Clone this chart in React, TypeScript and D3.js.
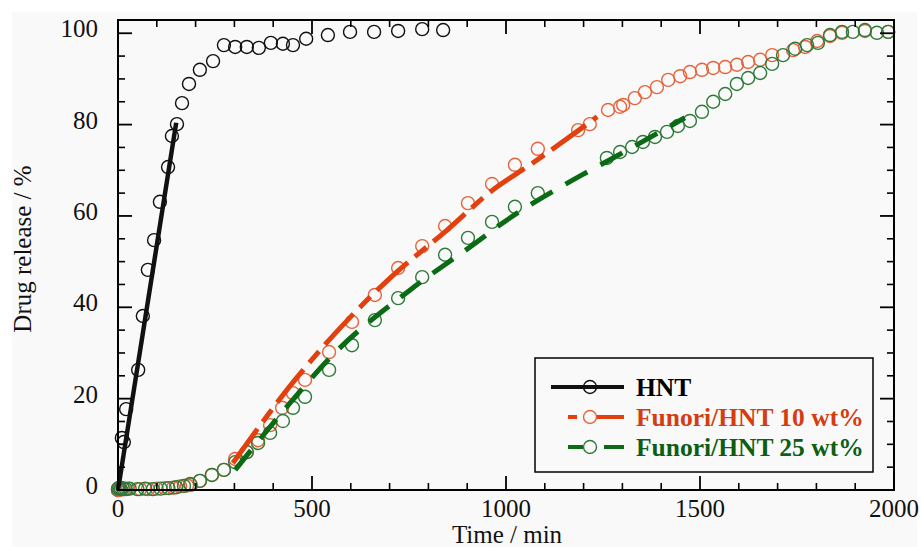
import React from "react";
import * as d3 from "d3";

// ---------- data ----------
const hntTime = [0, 5, 10, 15, 21, 52, 64, 77, 93, 108, 129, 139, 152, 165, 183, 211, 245, 273, 302, 332, 363, 394, 425, 451, 485, 541, 598, 660, 722, 784, 838];
const hntRelease = [0, 0.5, 11.4, 10.5, 17.7, 26.3, 38.1, 48.2, 54.7, 63.1, 70.7, 77.5, 80.1, 84.7, 88.9, 92.0, 93.9, 97.4, 97.0, 97.0, 96.8, 97.9, 97.7, 97.4, 98.8, 99.6, 100.3, 100.3, 100.5, 100.9, 100.7];

const f10Time = [0, 4, 8, 15, 25, 57, 77, 100, 121, 142, 160, 178, 188, 211, 242, 273, 302, 332, 361, 392, 423, 451, 482, 544, 603, 662, 722, 784, 843, 902, 964, 1023, 1082, 1186, 1216, 1263, 1294, 1302, 1332, 1358, 1389, 1418, 1449, 1474, 1505, 1534, 1565, 1595, 1624, 1655, 1686, 1740, 1771, 1802, 1835, 1866, 1925, 1985];
const f10Release = [0, 0.3, 0.1, 0.2, 0.3, 0.2, 0.2, 0.3, 0.4, 0.5, 0.8, 1.0, 1.1, 2.0, 3.3, 4.4, 6.8, 8.3, 10.9, 14.2, 18.0, 21.2, 24.1, 30.2, 36.8, 42.7, 48.6, 53.4, 57.8, 62.8, 67.0, 71.2, 74.7, 78.8, 80.1, 83.2, 83.9, 84.3, 85.8, 87.1, 88.2, 89.8, 90.6, 91.5, 92.0, 92.4, 92.6, 93.1, 93.7, 94.2, 95.2, 96.3, 97.0, 98.3, 99.4, 100.1, 100.5, 100.3];

const f25Time = [0, 3, 7, 12, 20, 30, 50, 70, 90, 110, 130, 150, 170, 186, 211, 242, 273, 302, 332, 361, 392, 425, 451, 482, 544, 603, 662, 722, 784, 843, 902, 964, 1023, 1082, 1260, 1294, 1325, 1353, 1384, 1415, 1443, 1474, 1505, 1534, 1565, 1595, 1624, 1655, 1686, 1714, 1745, 1776, 1804, 1835, 1866, 1894, 1925, 1956, 1985];
const f25Release = [0.3, 0.5, 0.2, 0.4, 0.2, 0.3, 0.2, 0.3, 0.2, 0.3, 0.4, 0.6, 0.9, 1.3, 2.0, 3.3, 4.4, 6.1, 8.3, 10.3, 12.5, 15.1, 18.0, 20.4, 26.3, 31.7, 37.2, 42.0, 46.6, 51.5, 55.2, 58.7, 62.0, 65.0, 72.7, 74.0, 75.1, 76.2, 77.3, 78.4, 79.7, 80.8, 82.8, 85.0, 86.7, 88.9, 90.2, 91.3, 93.3, 95.2, 96.6, 97.4, 97.9, 99.6, 100.3, 100.3, 100.7, 100.1, 100.3];

// fitted lines (knots)
const hntFitTime = [0, 150];
const hntFitRelease = [0, 80.4];
const f10FitTime = [296, 456, 528, 701, 848, 966, 1062, 1235];
const f10FitRelease = [5.9, 24.1, 31.3, 46.4, 56.9, 65.7, 71.2, 81.7];
const f25FitTime = [302, 443, 554, 753, 925, 977, 1196, 1276, 1461];
const f25FitRelease = [4.4, 19.0, 29.6, 43.8, 54.3, 57.6, 69.0, 72.7, 81.5];

const xMajorTicks = [0, 500, 1000, 1500, 2000];
const yMajorTicks = [0, 20, 40, 60, 80, 100];
const legendLabels = ["HNT", "Funori/HNT 10 wt%", "Funori/HNT 25 wt%"];

const BLACK = "#111";
const ORANGE_LINE = "#e2400e";
const ORANGE_PT = "#e5643c";
const ORANGE_TXT = "#d53c10";
const GREEN_LINE = "#0b6a14";
const GREEN_PT = "#2f7a3a";
const GREEN_TXT = "#0c5e14";
const FONT = "'Liberation Serif', 'Times New Roman', serif";

export default function App() {
  const W = 921;
  const H = 547;
  const x = d3.scaleLinear().domain([0, 2000]).range([118, 894]);
  const y = d3.scaleLinear().domain([0, 102.9]).range([490, 20]);
  const [x0, x1] = x.range();
  const [y0, y1] = y.range();

  const xMinor = d3.range(0, 2001, 100).filter((v) => !xMajorTicks.includes(v));
  const yMinor = d3.range(0, 101, 5).filter((v) => !yMajorTicks.includes(v));

  const line = d3
    .line<[number, number]>()
    .x((d) => x(d[0]))
    .y((d) => y(d[1]))
    .curve(d3.curveMonotoneX);

  const zip = (a: number[], b: number[]) => a.map((v, i) => [v, b[i]] as [number, number]);

  const series = [
    { t: hntTime, r: hntRelease, pt: BLACK },
    { t: f10Time, r: f10Release, pt: ORANGE_PT },
    { t: f25Time, r: f25Release, pt: GREEN_PT },
  ];

  const MAJ = 14;
  const MIN = 7;
  const R = 6.5;

  // legend layout
  const lgX = 535, lgY = 358, lgW = 338, lgH = 114;
  const rowY = [387, 417, 447];

  return (
    <svg
      width={W}
      height={H}
      style={{ position: "absolute", left: 0, top: 0, display: "block" }}
      fontFamily={FONT}
    >
      <rect x={0} y={0} width={W} height={H} fill="#ffffff" />
      <rect x={12} y={12} width={905} height={535} fill="#f9f9f9" />

      {/* data circles */}
      {series.map((s, si) => (
        <g key={si}>
          {s.t.map((t, i) => (
            <circle key={i} cx={x(t)} cy={y(s.r[i])} r={R} fill="none" stroke={s.pt} strokeWidth={1.4} />
          ))}
        </g>
      ))}

      {/* fit lines */}
      <path d={line(zip(hntFitTime, hntFitRelease)) || ""} fill="none" stroke={BLACK} strokeWidth={4.5} />
      <path
        d={line(zip(f10FitTime, f10FitRelease)) || ""}
        fill="none"
        stroke={ORANGE_LINE}
        strokeWidth={5}
        strokeDasharray="42,9,15,9"
      />
      <path
        d={line(zip(f25FitTime, f25FitRelease)) || ""}
        fill="none"
        stroke={GREEN_LINE}
        strokeWidth={5}
        strokeDasharray="25,15"
      />

      {/* frame */}
      <rect x={x0} y={y1} width={x1 - x0} height={y0 - y1} fill="none" stroke="#000" strokeWidth={2} />

      {/* x ticks bottom & top */}
      {xMajorTicks.map((v) => (
        <g key={"xM" + v}>
          <line x1={x(v)} x2={x(v)} y1={y0} y2={y0 - MAJ} stroke="#000" strokeWidth={1.8} />
          <line x1={x(v)} x2={x(v)} y1={y1} y2={y1 + MAJ} stroke="#000" strokeWidth={1.8} />
          <text x={x(v)} y={517} textAnchor="middle" fontSize={25} fill="#111">
            {v}
          </text>
        </g>
      ))}
      {xMinor.map((v) => (
        <g key={"xm" + v}>
          <line x1={x(v)} x2={x(v)} y1={y0} y2={y0 - MIN} stroke="#000" strokeWidth={1.6} />
          <line x1={x(v)} x2={x(v)} y1={y1} y2={y1 + MIN} stroke="#000" strokeWidth={1.6} />
        </g>
      ))}

      {/* y ticks left & right */}
      {yMajorTicks.map((v) => (
        <g key={"yM" + v}>
          <line x1={x0} x2={x0 + MAJ} y1={y(v)} y2={y(v)} stroke="#000" strokeWidth={1.8} />
          <line x1={x1} x2={x1 - MAJ} y1={y(v)} y2={y(v)} stroke="#000" strokeWidth={1.8} />
          <text x={98} y={y(v) + 4} textAnchor="end" fontSize={25} fill="#111">
            {v}
          </text>
        </g>
      ))}
      {yMinor.map((v) => (
        <g key={"ym" + v}>
          <line x1={x0} x2={x0 + MIN} y1={y(v)} y2={y(v)} stroke="#000" strokeWidth={1.6} />
          <line x1={x1} x2={x1 - MIN} y1={y(v)} y2={y(v)} stroke="#000" strokeWidth={1.6} />
        </g>
      ))}

      {/* axis titles */}
      <text x={507} y={543} textAnchor="middle" fontSize={25} fill="#111">
        Time / min
      </text>
      <text
        transform={`translate(31, 249) rotate(-90)`}
        textAnchor="middle"
        fontSize={25}
        fill="#111"
      >
        Drug release / %
      </text>

      {/* legend */}
      <rect x={lgX} y={lgY} width={lgW} height={lgH} fill="#f9f9f9" stroke="#000" strokeWidth={1.5} />
      <g>
        <line x1={551} x2={624} y1={rowY[0]} y2={rowY[0]} stroke={BLACK} strokeWidth={4} />
        <circle cx={590} cy={rowY[0]} r={R} fill="none" stroke={BLACK} strokeWidth={1.4} />
        <text x={636} y={rowY[0] + 9} fontSize={25.5} fontWeight="bold" fill="#000">
          {legendLabels[0]}
        </text>
      </g>
      <g>
        <line x1={568} x2={577} y1={rowY[1]} y2={rowY[1]} stroke={ORANGE_LINE} strokeWidth={4} />
        <line x1={596} x2={624} y1={rowY[1]} y2={rowY[1]} stroke={ORANGE_LINE} strokeWidth={4} />
        <circle cx={590} cy={rowY[1]} r={R} fill="none" stroke={ORANGE_PT} strokeWidth={1.4} />
        <text x={636} y={rowY[1] + 9} fontSize={25.5} fontWeight="bold" fill={ORANGE_TXT}>
          {legendLabels[1]}
        </text>
      </g>
      <g>
        <line x1={568} x2={583} y1={rowY[2]} y2={rowY[2]} stroke={GREEN_LINE} strokeWidth={4} />
        <line x1={604} x2={624} y1={rowY[2]} y2={rowY[2]} stroke={GREEN_LINE} strokeWidth={4} />
        <circle cx={590} cy={rowY[2]} r={R} fill="none" stroke={GREEN_PT} strokeWidth={1.4} />
        <text x={636} y={rowY[2] + 9} fontSize={25.5} fontWeight="bold" fill={GREEN_TXT}>
          {legendLabels[2]}
        </text>
      </g>
    </svg>
  );
}
